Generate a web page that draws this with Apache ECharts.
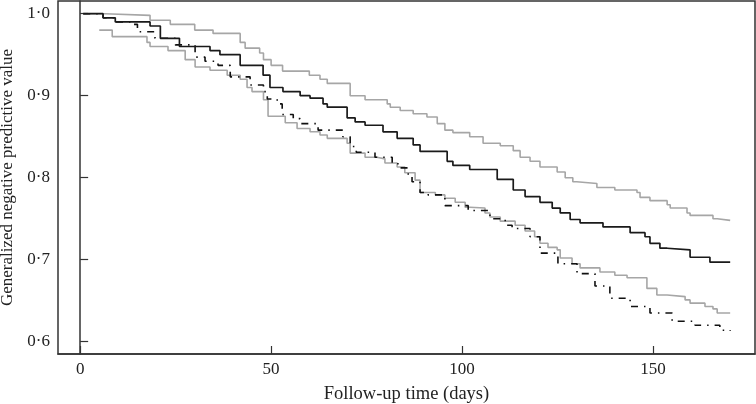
<!DOCTYPE html>
<html>
<head>
<meta charset="utf-8">
<script src="https://cdn.jsdelivr.net/npm/echarts@6/dist/echarts.min.js"></script>
<style>
html,body{margin:0;padding:0;background:#fff;}
#chart{width:756px;height:404px;}
</style>
</head>
<body>
<div id="chart"></div>
<script>
// ---- data ----
var solidDays = [0.8, 6, 9.2, 18.3, 21, 26, 34, 36.6, 41.9, 47.9, 49.7, 53.1, 57.6, 60.2, 63.6, 64.7, 69.9, 72, 74.6, 79.3, 83, 87.2, 89, 96.1, 97.6, 102, 109.2, 113.4, 116.5, 120.4, 123.6, 125.7, 128.3, 130.9, 136.9, 144, 147.9, 149.2, 151.8, 153.7, 159.7, 164.9, 170.2];
var solidValues = [1.0, 0.995, 0.99, 0.985, 0.97, 0.96, 0.955, 0.95, 0.937, 0.925, 0.91, 0.905, 0.9, 0.897, 0.89, 0.886, 0.873, 0.868, 0.864, 0.856, 0.848, 0.84, 0.832, 0.82, 0.815, 0.81, 0.798, 0.785, 0.777, 0.77, 0.763, 0.757, 0.749, 0.745, 0.74, 0.733, 0.728, 0.72, 0.714, 0.712, 0.703, 0.697, 0.697];

var upperDays = [0.8, 6.5, 18.3, 23.6, 30, 34.8, 41.9, 43.2, 47, 48, 50, 53, 60, 62.8, 64.7, 70.7, 74.6, 80.4, 81.2, 83.8, 87.2, 90.8, 93.5, 95.5, 97.6, 102, 105.5, 110, 113.4, 115.2, 117.8, 120.4, 124.9, 127, 129, 130, 135.3, 140, 145.8, 146.6, 149.2, 153.7, 154.5, 158.9, 159.7, 165.7, 166.8, 170.2];
var upperValues = [1.0, 0.998, 0.992, 0.987, 0.98, 0.976, 0.965, 0.958, 0.952, 0.944, 0.937, 0.93, 0.925, 0.92, 0.915, 0.9, 0.895, 0.89, 0.886, 0.882, 0.878, 0.874, 0.866, 0.858, 0.855, 0.85, 0.842, 0.839, 0.833, 0.825, 0.82, 0.813, 0.807, 0.8, 0.795, 0.793, 0.788, 0.785, 0.782, 0.776, 0.772, 0.767, 0.763, 0.757, 0.754, 0.75, 0.748, 0.748];

var lowerDays = [5, 8.4, 17.5, 18.3, 23, 27.5, 30.1, 34, 38.5, 41.9, 43.7, 45, 48, 49.2, 53.7, 56.8, 60.2, 62.8, 64.7, 69.9, 70.7, 74.6, 77.7, 79.8, 83, 85, 87.7, 89, 93, 95.5, 98.2, 100.8, 102, 106, 107.3, 110, 113.9, 116.5, 119, 120.4, 122.5, 124.9, 125.7, 128.8, 130.9, 136.1, 140, 143.2, 148.4, 151, 153.7, 158.4, 159.7, 163.6, 165.7, 166.8, 170.2];
var lowerValues = [0.98, 0.972, 0.965, 0.96, 0.955, 0.944, 0.935, 0.931, 0.925, 0.92, 0.91, 0.905, 0.895, 0.875, 0.867, 0.86, 0.856, 0.852, 0.848, 0.842, 0.83, 0.825, 0.823, 0.818, 0.813, 0.806, 0.797, 0.782, 0.779, 0.775, 0.77, 0.764, 0.763, 0.757, 0.752, 0.747, 0.742, 0.735, 0.728, 0.72, 0.715, 0.712, 0.702, 0.695, 0.69, 0.685, 0.681, 0.678, 0.665, 0.657, 0.655, 0.651, 0.647, 0.643, 0.64, 0.635, 0.635];

var dashDays = [0.8, 6, 9.2, 13.1, 15, 19.6, 24.9, 30.1, 32.7, 36.1, 39.3, 44.5, 48, 49, 51.6, 52.9, 55.8, 57.6, 62.3, 68.8, 70.7, 72.3, 77.2, 81.7, 83.2, 85.9, 86.9, 89, 91.1, 95.5, 101.6, 107.3, 111.3, 113.1, 117.8, 120.4, 125.1, 130.1, 134.8, 138.7, 144, 149.2, 155, 161, 167.5, 170.2];
var dashValues = [1.0, 0.995, 0.99, 0.987, 0.978, 0.97, 0.962, 0.947, 0.942, 0.937, 0.923, 0.913, 0.905, 0.896, 0.89, 0.877, 0.872, 0.866, 0.858, 0.85, 0.838, 0.831, 0.825, 0.818, 0.812, 0.803, 0.795, 0.782, 0.779, 0.766, 0.76, 0.75, 0.742, 0.738, 0.728, 0.708, 0.695, 0.683, 0.668, 0.653, 0.643, 0.635, 0.625, 0.62, 0.614, 0.613];

var xTicks = [0, 50, 100, 150];
var yTicks = [0.6, 0.7, 0.8, 0.9, 1.0];
var xTitle = 'Follow-up time (days)';
var yTitle = 'Generalized negative predictive value';

function pairs(xs, ys) { return xs.map(function (x, i) { return [x, ys[i]]; }); }

var FONT = "'Liberation Serif', 'DejaVu Serif', serif";
var TXT = '#222';
var AX = '#333';

var chart = echarts.init(document.getElementById('chart'), null, {renderer: 'canvas'});
chart.setOption({
  animation: false,
  backgroundColor: '#fff',
  grid: {left: 58, right: 1, top: 1, bottom: 50, show: true, borderColor: AX, borderWidth: 1.5,
         containLabel: false, outerBoundsMode: 'none'},
  xAxis: {
    type: 'value', min: -5.8, max: 176.7,
    name: xTitle, nameLocation: 'middle', nameGap: 31,
    nameTextStyle: {fontFamily: FONT, fontSize: 18.5, color: TXT},
    axisLine: {show: true, lineStyle: {color: AX, width: 1.5}},
    axisTick: {show: true, inside: true, length: 8, customValues: xTicks, lineStyle: {color: AX, width: 1.2}},
    axisLabel: {customValues: xTicks, fontFamily: FONT, fontSize: 17, color: TXT, margin: 7},
    splitLine: {show: false}
  },
  yAxis: {
    type: 'value', min: 0.585, max: 1.0155,
    name: yTitle, nameLocation: 'middle', nameGap: 41,
    nameTextStyle: {fontFamily: FONT, fontSize: 17, color: TXT},
    axisLine: {show: true, lineStyle: {color: AX, width: 1.5}},
    axisTick: {show: true, inside: true, length: 8, customValues: yTicks, lineStyle: {color: AX, width: 1.2}},
    axisLabel: {customValues: yTicks, fontFamily: FONT, fontSize: 17, color: TXT, margin: 8,
      formatter: function (v) { return v.toFixed(1).replace('.', '\u00B7'); }},
    splitLine: {show: false}
  },
  series: [
    {type: 'line', step: 'end', data: pairs(upperDays, upperValues), showSymbol: false, symbol: 'none',
     lineStyle: {color: '#a6a6a6', width: 1.6}},
    {type: 'line', step: 'end', data: pairs(lowerDays, lowerValues), showSymbol: false, symbol: 'none',
     lineStyle: {color: '#a6a6a6', width: 1.6}},
    {type: 'line', step: 'end', data: pairs(dashDays, dashValues), showSymbol: false, symbol: 'none',
     lineStyle: {color: '#111', width: 1.6, type: [7, 6, 1.5, 6]}},
    {type: 'line', step: 'end', data: pairs(solidDays, solidValues), showSymbol: false, symbol: 'none',
     lineStyle: {color: '#1a1a1a', width: 1.7}}
  ]
});
</script>
</body>
</html>
